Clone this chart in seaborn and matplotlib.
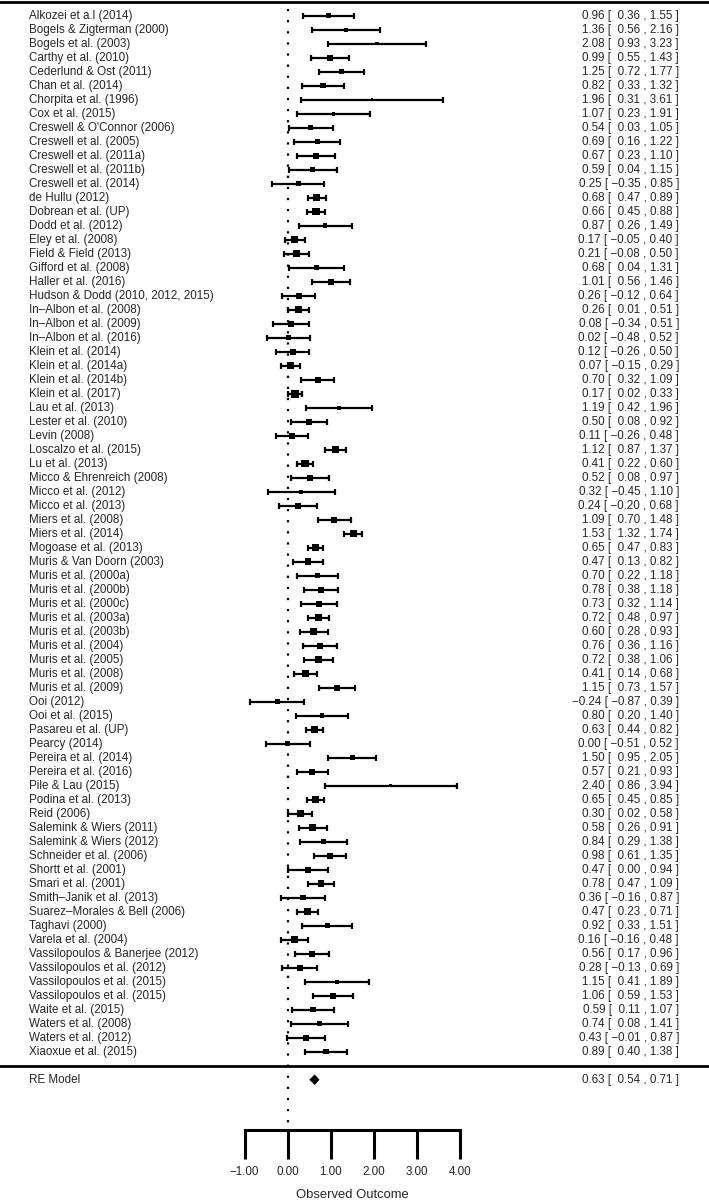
import numpy as np
import pandas as pd
import seaborn as sns
import matplotlib.pyplot as plt

# Study-level effect sizes (estimate and 95% CI)
studies = [
    "Alkozei et a.l (2014)", "Bogels & Zigterman (2000)", "Bogels et al. (2003)",
    "Carthy et al. (2010)", "Cederlund & Ost (2011)", "Chan et al. (2014)",
    "Chorpita et al. (1996)", "Cox et al. (2015)", "Creswell & O'Connor (2006)",
    "Creswell et al. (2005)", "Creswell et al. (2011a)", "Creswell et al. (2011b)",
    "Creswell et al. (2014)", "de Hullu (2012)", "Dobrean et al. (UP)",
    "Dodd et al. (2012)", "Eley et al. (2008)", "Field & Field (2013)",
    "Gifford et al. (2008)", "Haller et al. (2016)", "Hudson & Dodd (2010, 2012, 2015)",
    "In–Albon et al. (2008)", "In–Albon et al. (2009)", "In–Albon et al. (2016)",
    "Klein et al. (2014)", "Klein et al. (2014a)", "Klein et al. (2014b)",
    "Klein et al. (2017)", "Lau et al. (2013)", "Lester et al. (2010)",
    "Levin (2008)", "Loscalzo et al. (2015)", "Lu et al. (2013)",
    "Micco & Ehrenreich (2008)", "Micco et al. (2012)", "Micco et al. (2013)",
    "Miers et al. (2008)", "Miers et al. (2014)", "Mogoase et al. (2013)",
    "Muris & Van Doorn (2003)", "Muris et al. (2000a)", "Muris et al. (2000b)",
    "Muris et al. (2000c)", "Muris et al. (2003a)", "Muris et al. (2003b)",
    "Muris et al. (2004)", "Muris et al. (2005)", "Muris et al. (2008)",
    "Muris et al. (2009)", "Ooi (2012)", "Ooi et al. (2015)",
    "Pasareu et al. (UP)", "Pearcy (2014)", "Pereira et al. (2014)",
    "Pereira et al. (2016)", "Pile & Lau (2015)", "Podina et al. (2013)",
    "Reid (2006)", "Salemink & Wiers (2011)", "Salemink & Wiers (2012)",
    "Schneider et al. (2006)", "Shortt et al. (2001)", "Smari et al. (2001)",
    "Smith–Janik et al. (2013)", "Suarez–Morales & Bell (2006)", "Taghavi (2000)",
    "Varela et al. (2004)", "Vassilopoulos & Banerjee (2012)", "Vassilopoulos et al. (2012)",
    "Vassilopoulos et al. (2015)", "Vassilopoulos et al. (2015)", "Waite et al. (2015)",
    "Waters et al. (2008)", "Waters et al. (2012)", "Xiaoxue et al. (2015)",
]

estimate = [
    0.96, 1.36, 2.08, 0.99, 1.25, 0.82, 1.96, 1.07, 0.54, 0.69,
    0.67, 0.59, 0.25, 0.68, 0.66, 0.87, 0.17, 0.21, 0.68, 1.01,
    0.26, 0.26, 0.08, 0.02, 0.12, 0.07, 0.70, 0.17, 1.19, 0.50,
    0.11, 1.12, 0.41, 0.52, 0.32, 0.24, 1.09, 1.53, 0.65, 0.47,
    0.70, 0.78, 0.73, 0.72, 0.60, 0.76, 0.72, 0.41, 1.15, -0.24,
    0.80, 0.63, 0.00, 1.50, 0.57, 2.40, 0.65, 0.30, 0.58, 0.84,
    0.98, 0.47, 0.78, 0.36, 0.47, 0.92, 0.16, 0.56, 0.28, 1.15,
    1.06, 0.59, 0.74, 0.43, 0.89,
]

ci_lower = [
    0.36, 0.56, 0.93, 0.55, 0.72, 0.33, 0.31, 0.23, 0.03, 0.16,
    0.23, 0.04, -0.35, 0.47, 0.45, 0.26, -0.05, -0.08, 0.04, 0.56,
    -0.12, 0.01, -0.34, -0.48, -0.26, -0.15, 0.32, 0.02, 0.42, 0.08,
    -0.26, 0.87, 0.22, 0.08, -0.45, -0.20, 0.70, 1.32, 0.47, 0.13,
    0.22, 0.38, 0.32, 0.48, 0.28, 0.36, 0.38, 0.14, 0.73, -0.87,
    0.20, 0.44, -0.51, 0.95, 0.21, 0.86, 0.45, 0.02, 0.26, 0.29,
    0.61, 0.00, 0.47, -0.16, 0.23, 0.33, -0.16, 0.17, -0.13, 0.41,
    0.59, 0.11, 0.08, -0.01, 0.40,
]

ci_upper = [
    1.55, 2.16, 3.23, 1.43, 1.77, 1.32, 3.61, 1.91, 1.05, 1.22,
    1.10, 1.15, 0.85, 0.89, 0.88, 1.49, 0.40, 0.50, 1.31, 1.46,
    0.64, 0.51, 0.51, 0.52, 0.50, 0.29, 1.09, 0.33, 1.96, 0.92,
    0.48, 1.37, 0.60, 0.97, 1.10, 0.68, 1.48, 1.74, 0.83, 0.82,
    1.18, 1.18, 1.14, 0.97, 0.93, 1.16, 1.06, 0.68, 1.57, 0.39,
    1.40, 0.82, 0.52, 2.05, 0.93, 3.94, 0.85, 0.58, 0.91, 1.38,
    1.35, 0.94, 1.09, 0.87, 0.71, 1.51, 0.48, 0.96, 0.69, 1.89,
    1.53, 1.07, 1.41, 0.87, 1.38,
]

# Pooled random-effects estimate
re_label = "RE Model"
re_estimate = 0.63
re_lower = 0.54
re_upper = 0.71

x_ticks = [-1, 0, 1, 2, 3, 4]
x_tick_labels = ["−1.00", "0.00", "1.00", "2.00", "3.00", "4.00"]
x_title = "Observed Outcome"


def fmt_ci(est, lb, ub):
    s = f"{est:.2f} [ {lb:5.2f} , {ub:.2f} ]"
    return s.replace("-", "−")


sns.set_theme(style="white")
plt.rcParams["font.family"] = ["Liberation Sans", "DejaVu Sans"]
FS = 8.4

k = len(studies)
df = pd.DataFrame({"study": studies, "est": estimate, "lb": ci_lower, "ub": ci_upper})
df["row"] = np.arange(k, 0, -1)

# point size follows the model weights (metafor style, 0.5 - 1.5)
se = (df["ub"] - df["lb"]) / (2 * 1.96)
w = 1 / (se ** 2 + 0.08)
psize = 0.5 + (w - w.min()) / (w.max() - w.min())
df["area"] = (psize * 3.7) ** 2

fig = plt.figure(figsize=(7.09, 12), dpi=100)
ax = fig.add_axes([0, 0, 1, 1])
ax.set_xlim(-6.686, 9.80)
ax.set_ylim(-9.59, 76.12)
ax.axis("off")

# reference line at zero
ax.plot([0, 0], [75.48, -4.1], color="black", lw=1.6, linestyle=(0, (1, 4)))

# confidence intervals
ax.errorbar(
    df["est"], df["row"],
    xerr=[df["est"] - df["lb"], df["ub"] - df["est"]],
    fmt="none", ecolor="black", elinewidth=1.6, capsize=2.4, capthick=1.6,
)

# squares
sns.scatterplot(
    data=df, x="est", y="row",
    size="area", sizes=(df["area"].min(), df["area"].max()),
    marker="s", color="black", linewidth=0, legend=False, ax=ax, zorder=3,
)

# study labels and numbers
for _, r in df.iterrows():
    ax.text(-6.012, r["row"], r["study"], ha="left", va="center", fontsize=FS)
    ax.text(9.105, r["row"], fmt_ci(r["est"], r["lb"], r["ub"]),
            ha="right", va="center", fontsize=FS)

# horizontal rules
ax.axhline(k + 1, color="black", lw=2)
ax.axhline(0, color="black", lw=2)

# pooled estimate diamond
h = 0.27
ax.fill([re_lower, re_estimate, re_upper, re_estimate],
        [-1, -1 + h, -1, -1 - h], facecolor="black", edgecolor="black", lw=1.5)
ax.text(-6.012, -1, re_label, ha="left", va="center", fontsize=FS)
ax.text(9.105, -1, fmt_ci(re_estimate, re_lower, re_upper),
        ha="right", va="center", fontsize=FS)

# x axis
ax.plot([x_ticks[0], x_ticks[-1]], [-4.59, -4.59], color="black", lw=2.2,
        solid_capstyle="projecting")
ax.vlines(x_ticks, -6.69, -4.59, color="black", lw=2.2)
for t, lab in zip(x_ticks, x_tick_labels):
    ax.text(t, -7.57, lab, ha="center", va="center", fontsize=FS)
ax.text(np.mean([x_ticks[0], x_ticks[-1]]), -9.2, x_title,
        ha="center", va="center", fontsize=9.4)

fig.savefig("out.png", dpi=100)
